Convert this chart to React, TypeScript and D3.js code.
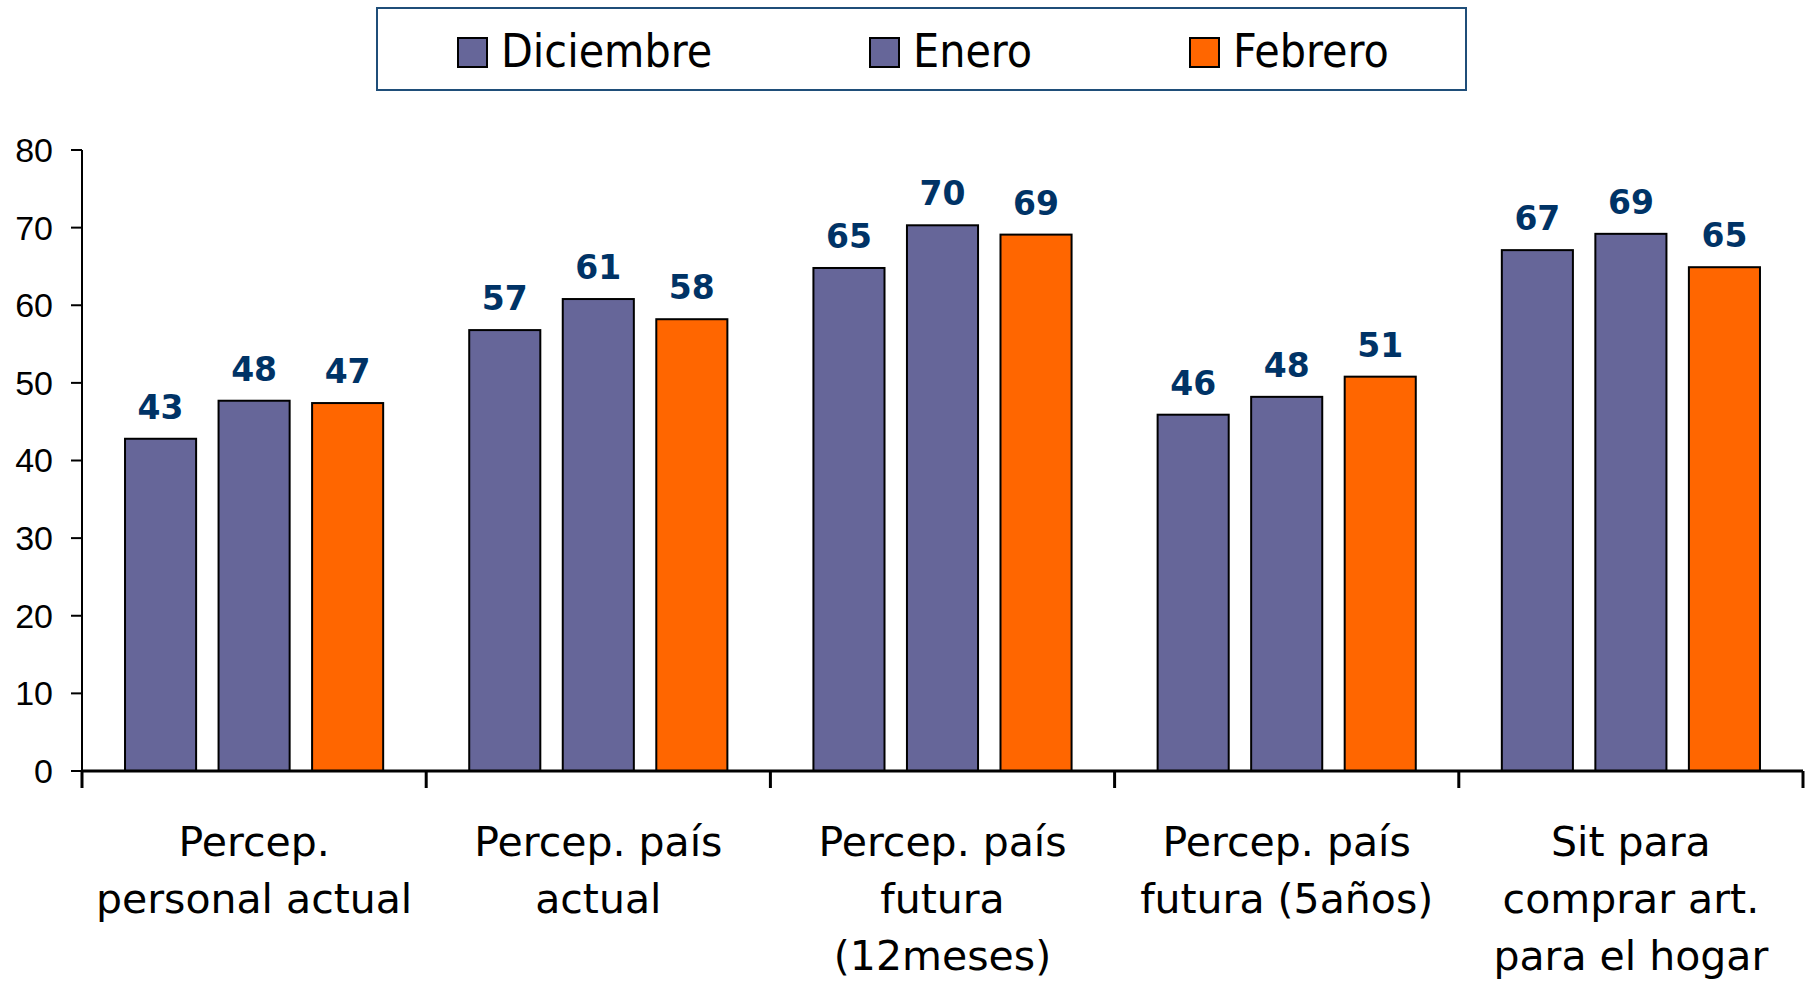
import React from "react"
import * as d3 from "d3"

// datos
const categories = ["c1", "c2", "c3", "c4", "c5"]
const categoryLabels = [
    ["Percep.", "personal actual"],
    ["Percep. país", "actual"],
    ["Percep. país", "futura", "(12meses)"],
    ["Percep. país", "futura (5años)"],
    ["Sit para", "comprar art.", "para el hogar"],
]
const series = ["Diciembre", "Enero", "Febrero"]
const diciembre = [42.8, 56.8, 64.8, 45.9, 67.1]
const enero = [47.7, 60.8, 70.3, 48.2, 69.2]
const febrero = [47.4, 58.2, 69.1, 50.8, 64.9]
const yTicks = [0, 10, 20, 30, 40, 50, 60, 70, 80]
const colors = ["#666699", "#666699", "#FF6600"]

const W = 1806, H = 981
const left = 82, right = 1803, top = 150, bottom = 771

export default function App() {
    const values = [diciembre, enero, febrero]

    const y = d3.scaleLinear().domain([0, 80]).range([bottom, top])
    const x0 = d3.scaleBand().domain(categories).range([left, right]).padding(0)
    const x1 = d3.scaleBand().domain(series).range([0, x0.bandwidth()])
        .paddingInner(0.24).paddingOuter(0.46)
    const fmt = d3.format(".0f")

    const legendX = [458, 870, 1190]

    return (
        <svg width={W} height={H} style={{position: "absolute", left: 0, top: 0, background: "#fff"}}>
            {/* leyenda */}
            <rect x={377} y={8} width={1089} height={82} fill="#fff" stroke="#1F4E79" strokeWidth={2} />
            {series.map((s, i) => (
                <g key={s}>
                    <rect x={legendX[i]} y={38} width={29} height={29} fill={colors[i]} stroke="#000" strokeWidth={2} />
                    <text x={legendX[i] + 43} y={67} fontFamily="'DejaVu Sans Condensed', 'DejaVu Sans', sans-serif"
                          style={{fontStretch: "condensed"}} fontSize={46} fill="#000">{s}</text>
                </g>
            ))}

            {/* eje y */}
            <line x1={left} x2={left} y1={top} y2={bottom} stroke="#000" strokeWidth={2} />
            {yTicks.map(t => (
                <g key={t}>
                    <line x1={71} x2={left} y1={y(t)} y2={y(t)} stroke="#000" strokeWidth={2} />
                    <text x={53} y={y(t)} dy="0.35em" textAnchor="end" fontFamily="'Liberation Sans', Arial, sans-serif"
                          fontSize={34} fill="#000">{t}</text>
                </g>
            ))}

            {/* barras */}
            {categories.map((c, ci) => (
                <g key={c} transform={`translate(${x0(c)},0)`}>
                    {series.map((s, si) => {
                        const v = values[si][ci]
                        const bx = x1(s)!
                        return (
                            <g key={s}>
                                <rect x={bx} y={y(v)} width={x1.bandwidth()} height={bottom - y(v)}
                                      fill={colors[si]} stroke="#000" strokeWidth={2} />
                                <text x={bx + x1.bandwidth() / 2} y={y(v) - 20} textAnchor="middle"
                                      fontFamily="'DejaVu Sans', Verdana, sans-serif" fontWeight="bold"
                                      fontSize={33} fill="#003366">{fmt(v)}</text>
                            </g>
                        )
                    })}
                </g>
            ))}

            {/* eje x */}
            <line x1={left} x2={right} y1={bottom} y2={bottom} stroke="#000" strokeWidth={3} />
            {[...categories.map(c => x0(c)!), right].map((tx, i) => (
                <line key={i} x1={tx} x2={tx} y1={bottom} y2={788} stroke="#000" strokeWidth={3} />
            ))}
            {categories.map((c, ci) => (
                <text key={c} textAnchor="middle" fontFamily="'DejaVu Sans', Tahoma, sans-serif" fontSize={41} fill="#000">
                    {categoryLabels[ci].map((line, li) => (
                        <tspan key={li} x={x0(c)! + x0.bandwidth() / 2} y={856 + li * 57}>{line}</tspan>
                    ))}
                </text>
            ))}
        </svg>
    )
}
